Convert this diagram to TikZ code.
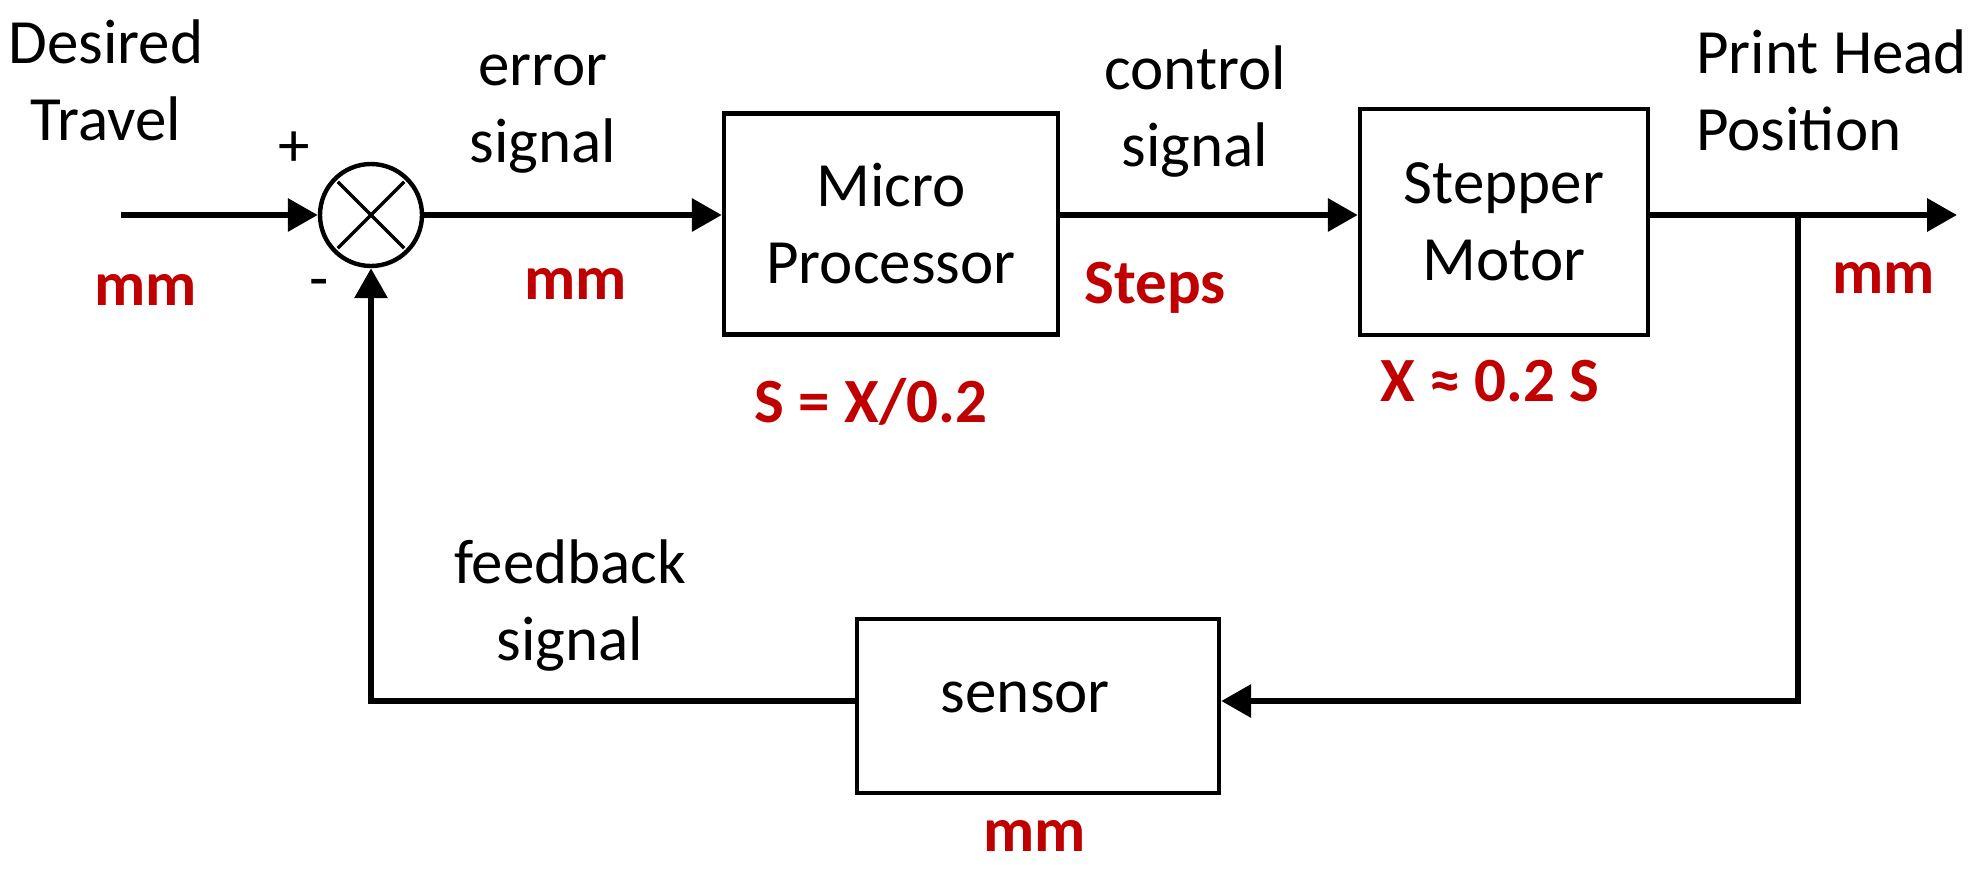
\documentclass[tikz,border=0pt]{standalone}
\usepackage{fontspec}
\setmainfont{Carlito}
\usetikzlibrary{arrows.meta}
\definecolor{unitred}{HTML}{C00000}
\begin{document}
\begin{tikzpicture}[x=0.5pt, y=-0.5pt,
    every node/.style={font=\fontsize{31.5}{38.5}\selectfont},
    lbl/.style={inner sep=0pt, align=center},
    unit/.style={inner sep=0pt, text=unitred, font=\fontsize{31.5}{38.5}\selectfont\bfseries},
    block/.style={draw, line width=2.2pt, inner sep=0pt, align=center},
    arr/.style={line width=3.2pt, -{Triangle[length=15pt, width=16pt]}}]
    \useasboundingbox (0,0) rectangle (1980,874);
    % blocks
    \node[draw, circle, line width=2.2pt, minimum size=51pt] (sum) at (371,215) {};
    \draw[line width=1.7pt] ([shift={(135:23.5pt)}]sum.center) -- ([shift={(-45:23.5pt)}]sum.center);
    \draw[line width=1.7pt] ([shift={(45:23.5pt)}]sum.center) -- ([shift={(-135:23.5pt)}]sum.center);
    \node[block, minimum width=167pt, minimum height=110.5pt] (micro) at (891,224) {Micro\\Processor};
    \node[block, minimum width=144pt, minimum height=113pt] (stepper) at (1504,222) {Stepper\\Motor};
    \node[block, minimum width=181pt, minimum height=87pt] (sensor) at (1038,706)
        {\hspace*{-12.6pt}sensor\rule[-9pt]{0pt}{9pt}};
    % connectors
    \coordinate (in) at (121,215);
    \coordinate (out) at (1957,215);
    \coordinate (tap) at (1798,215);
    \coordinate (corner) at (1798,701);
    \draw[arr] (in) -- (sum);
    \draw[arr] (sum) -- (micro.west |- sum);
    \draw[arr] (micro.east |- sum) -- (stepper.west |- sum);
    \draw[arr] (stepper.east |- sum) -- (out);
    \draw[arr] (tap) -- (corner) -- (sensor.east |- corner);
    \draw[arr] (sensor.west |- corner) -- (sum |- corner) -- (sum);
    % labels
    \node[lbl] (desired) at (106,80) {Desired\\Travel};
    \node[lbl] (plus) at (294,149) {+};
    \node[lbl] (minus) at (319,289) {-};
    \node[lbl] (error) at (543,114) {error\\signal};
    \node[lbl] (control) at (1195,112) {control\\signal};
    \node[lbl, anchor=west, align=left] (head) at (1696,90) {Print Head\\Position};
    \node[lbl] (feedback) at (570,606) {feedback\\signal};
    \node[unit] (inunit) at (146,290) {mm};
    \node[unit] (errunit) at (576,284) {mm};
    \node[unit] (steps) at (1155,288) {Steps};
    \node[unit] (outunit) at (1884,278) {mm};
    \node[unit] (senunit) at (1035,836) {mm};
    \node[unit] (microeq) at (871,402) {S = X/0.2};
    \node[unit] (stepeq) at (1490,381) {X ≈ 0.2 S};
\end{tikzpicture}
\end{document}
